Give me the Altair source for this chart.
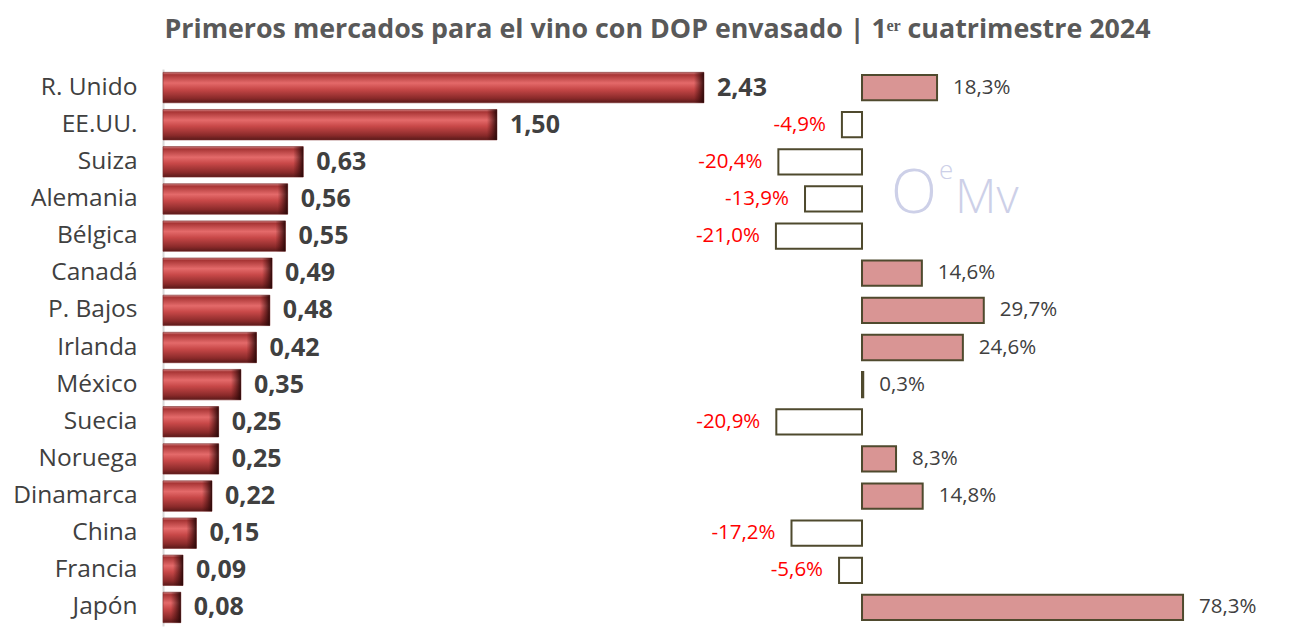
import altair as alt
import pandas as pd

paises = ["R. Unido", "EE.UU.", "Suiza", "Alemania", "Bélgica", "Canadá", "P. Bajos",
          "Irlanda", "México", "Suecia", "Noruega", "Dinamarca", "China", "Francia", "Japón"]
valores = [2.43, 1.50, 0.63, 0.56, 0.55, 0.49, 0.48, 0.42, 0.35, 0.25, 0.25, 0.22, 0.15, 0.09, 0.08]
variacion = [18.3, -4.9, -20.4, -13.9, -21.0, 14.6, 29.7, 24.6, 0.3, -20.9, 8.3, 14.8, -17.2, -5.6, 78.3]

df = pd.DataFrame({
    "pais": paises,
    "valor": valores,
    "pct": variacion,
    "lab_valor": [f"{v:.2f}".replace(".", ",") for v in valores],
    "lab_pct": [f"{p:.1f}%".replace(".", ",") for p in variacion],
})

FONT = "Open Sans"
W, H = 1097, 557
left_dom = [0, 4.928]
right_dom = [-170.49, 97.07]

y = alt.Y("pais:N", sort=paises, title=None,
          scale=alt.Scale(paddingInner=0, paddingOuter=0),
          axis=alt.Axis(ticks=False, domainColor="#d9d9d9", domainWidth=2,
                        labelFont=FONT, labelFontSize=24.5, labelColor="#404040",
                        labelPadding=26))

grad = alt.Gradient(
    gradient="linear", x1=0, x2=0, y1=0, y2=1,
    stops=[
        alt.GradientStop(offset=0, color="#d08080"),
        alt.GradientStop(offset=0.08, color="#a83535"),
        alt.GradientStop(offset=0.35, color="#e46a6a"),
        alt.GradientStop(offset=0.55, color="#c84848"),
        alt.GradientStop(offset=0.85, color="#8a2a2a"),
        alt.GradientStop(offset=1, color="#5a1a1a"),
    ],
)
bevel = alt.Gradient(
    gradient="linear", x1=0, x2=1, y1=0, y2=0,
    stops=[
        alt.GradientStop(offset=0, color="rgba(60,10,10,0)"),
        alt.GradientStop(offset=1, color="rgba(35,5,5,0.9)"),
    ],
)

xl = alt.X("valor:Q", scale=alt.Scale(domain=left_dom, nice=False, zero=False), axis=None)
xr = alt.X("pct:Q", scale=alt.Scale(domain=right_dom, nice=False, zero=False), axis=None)

left_bars = alt.Chart(df).mark_bar(height={"band": 0.82}, fill=grad, stroke="#7a2a2a",
                                   strokeWidth=0.6).encode(x=xl, x2=alt.datum(0), y=y)
left_bevel = alt.Chart(df).transform_calculate(
    x0="max(0, datum.valor - 0.045)").mark_bar(
    height={"band": 0.82}, fill=bevel).encode(
    x=alt.X("x0:Q", scale=alt.Scale(domain=left_dom, nice=False, zero=False), axis=None),
    x2="valor:Q", y=y)
left_text = alt.Chart(df).mark_text(align="left", dx=13, font=FONT, fontSize=25,
                                    fontWeight="bold", color="#404040").encode(
    x=xl, y=y, text="lab_valor:N")

right_bars = alt.Chart(df).mark_bar(height={"band": 0.68}, stroke="#4f4a2e",
                                    strokeWidth=2).encode(
    x=xr, x2=alt.datum(0), y=y,
    fill=alt.condition(alt.datum.pct > 0, alt.value("#d99594"), alt.value("#ffffff")))

pos_text = alt.Chart(df).transform_filter(alt.datum.pct > 0).mark_text(
    align="left", dx=16, font=FONT, fontSize=20.5, color="#404040").encode(
    x=xr, y=y, text="lab_pct:N")
neg_text = alt.Chart(df).transform_filter(alt.datum.pct < 0).mark_text(
    align="right", dx=-16, font=FONT, fontSize=20.5, color="#ff0000").encode(
    x=xr, y=y, text="lab_pct:N")

wm_color = "#cdd0e8"
wm1 = alt.Chart(pd.DataFrame({"t": ["O"]})).mark_text(
    align="left", baseline="alphabetic", font=FONT, fontSize=60, fontWeight=300,
    color=wm_color).encode(x=alt.value(728), y=alt.value(144), text="t:N")
wm2 = alt.Chart(pd.DataFrame({"t": ["e"]})).mark_text(
    align="left", baseline="alphabetic", font=FONT, fontSize=26, fontWeight=300,
    color=wm_color).encode(x=alt.value(776), y=alt.value(110), text="t:N")
wm3 = alt.Chart(pd.DataFrame({"t": ["Mv"]})).mark_text(
    align="left", baseline="alphabetic", font=FONT, fontSize=48, fontWeight=300,
    color=wm_color).encode(x=alt.value(792), y=alt.value(144), text="t:N")

chart = alt.layer(
    left_bars, left_bevel, left_text, right_bars, pos_text, neg_text, wm1, wm2, wm3
).resolve_scale(x="independent").properties(
    width=W, height=H,
    autosize=alt.AutoSizeParams(type="none"),
    padding={"left": 155, "top": 61, "right": 20, "bottom": 2},
    title=alt.TitleParams(
        "Primeros mercados para el vino con DOP envasado | 1ᵉʳ cuatrimestre 2024",
        font=FONT, fontSize=26.8, fontWeight="bold", color="#595959",
        anchor="middle", dx=-54, offset=25),
).configure_view(stroke=None)

chart.save("out.html", embed_options={"renderer": "svg", "actions": False})
